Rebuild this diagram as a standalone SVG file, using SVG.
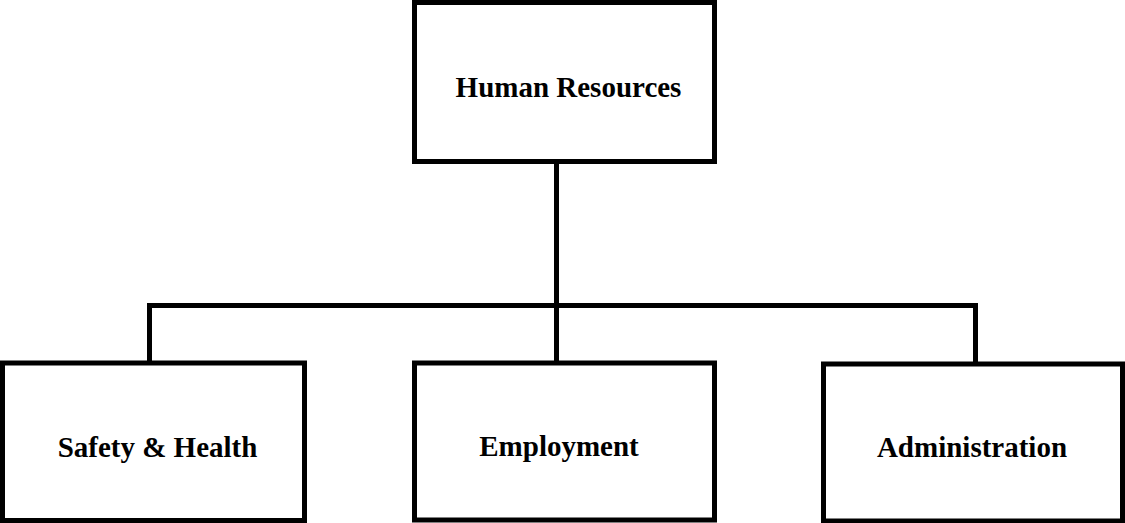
<svg xmlns="http://www.w3.org/2000/svg" width="1125" height="523" viewBox="0 0 1125 523">
<style>
.box{fill:#fff;stroke:#000;stroke-width:5}
.lbl{font-family:"Liberation Serif","Times New Roman",serif;font-weight:bold;font-size:29px;fill:#000;text-anchor:middle}
.conn{fill:none;stroke:#000;stroke-width:5;stroke-linejoin:miter}
</style>
<rect width="1125" height="523" fill="#fff"/>
<g id="connectors">
<path class="conn" d="M556.5 161.5 V363"/>
<path class="conn" d="M149.5 363 V305.5 H975.5 V363.5"/>
</g>
<g id="node-hr">
<rect class="box" x="414.5" y="2.5" width="300" height="159"/>
<text class="lbl" x="568.5" y="97">Human Resources</text>
</g>
<g id="node-safety">
<rect class="box" x="2.5" y="363" width="302" height="157.5"/>
<text class="lbl" x="157.5" y="457">Safety &amp; Health</text>
</g>
<g id="node-employment">
<rect class="box" x="414.5" y="363" width="300" height="157"/>
<text class="lbl" x="559" y="456">Employment</text>
</g>
<g id="node-admin">
<rect class="box" x="823.5" y="364" width="299" height="157"/>
<text class="lbl" x="972" y="457">Administration</text>
</g>
</svg>
